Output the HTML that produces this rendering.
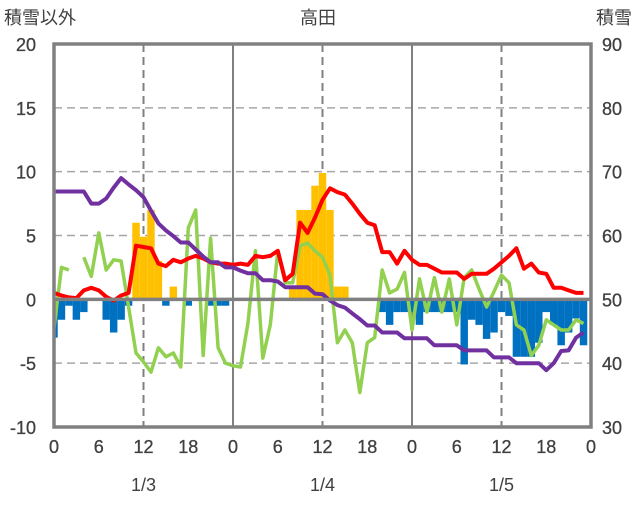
<!DOCTYPE html>
<html><head><meta charset="utf-8"><style>
html,body{margin:0;padding:0;background:#fff;}
svg text{font-family:"Liberation Sans","Noto Sans CJK JP",sans-serif;fill:#404040;}
</style></head><body>
<svg id="chart" width="636" height="501" xmlns="http://www.w3.org/2000/svg">
<g id="grid"></g>
<g id="bars"></g>
<g id="lines"></g>
<g id="axes"></g>
<text x="4" y="24" font-size="18">積雪以外</text>
<text x="318" y="24" font-size="18" text-anchor="middle">高田</text>
<text x="632" y="24" font-size="18" text-anchor="end">積雪</text>
</svg>
<script>
const leftTicks=[20,15,10,5,0,-5,-10];
const rightTicks=[90,80,70,60,50,40,30];
const hourTicks=[0,6,12,18,0,6,12,18,0,6,12,18,0];
const dateLabels=["1/3","1/4","1/5"];
const barValues=[-3,-1.6,-0.5,-1.6,-1,0,0,-1.6,-2.6,-1.6,-0.5,6,4.9,7,3,-0.5,1,0,-0.5,0,0,-0.5,-0.5,-0.5,
0,0,0,0,0,0,0,0,1,7,7,8.9,9.9,7,1,1,0,0,0,0,-1,-2,-1,-1,
-1,-2,-1,-1,-1,-1,-1,-5.1,-1.6,-2,-3.1,-2.6,-1,-1.3,-4.5,-4.5,-4.5,-3.4,-1,-2,-3.6,-2.6,-1.5,-3.6];
const tempValues=[0.5,0.3,0.15,0.1,0.7,0.9,0.7,0.2,-0.1,0.3,0.5,4.2,4.1,4.0,2.8,2.6,3.1,2.9,3.2,3.4,3.2,2.9,2.8,2.8,
2.7,2.8,2.7,3.4,3.3,3.4,3.8,1.5,2.0,6.0,5.2,6.4,7.8,8.7,8.4,8.2,7.5,6.7,6.0,5.8,3.7,3.7,2.8,3.8,
3.1,2.7,2.7,2.4,2.1,2.1,2.1,1.6,2.0,2.0,2.0,2.4,2.9,3.4,4.0,2.4,2.8,2.1,2.0,0.9,0.9,0.7,0.5,0.5];
const greenValues=[-2.2,2.5,2.3,null,3.3,1.8,5.2,2.3,3.1,3.0,-0.6,-4.2,-4.9,-5.7,-3.8,-4.5,-4.2,-5.3,5.6,7.0,-4.4,4.8,-3.8,-5.0,
-5.2,-5.3,-1.9,3.8,-4.6,-2.0,3.8,1.3,1.3,4.2,4.4,3.8,3.3,1.9,-3.4,-2.4,-3.4,-7.3,-3.4,-3.0,2.3,0.5,0.8,2.1,
-2.4,1.6,-1.0,1.7,-1.0,1.6,-2.0,1.7,2.3,0.8,-0.6,0.6,1.9,1.3,-2.0,-2.4,-4.4,-3.6,-1.6,-2.0,-2.4,-2.4,-1.6,-1.9];
const depthValues=[66.9,66.9,66.9,66.9,66.9,65.0,65.0,65.8,67.5,69.0,68.0,67.1,66.0,63.9,61.9,60.8,59.9,58.9,58.9,57.8,56.7,55.8,55.8,55.0,
55.0,54.5,54.1,54.1,53.0,53.0,52.8,51.9,51.9,51.9,51.9,50.9,50.8,49.8,49.1,48.7,47.8,46.9,45.9,45.9,44.8,44.8,44.8,43.9,
43.9,43.9,43.9,42.8,42.8,42.8,42.8,42.0,42.0,42.0,42.0,40.9,40.9,40.9,40.0,40.0,40.0,40.0,38.9,40.0,41.9,42.0,44.0,44.8];

const L=54,R=591,T=44,B=427,NS="http://www.w3.org/2000/svg";
const xH=h=>L+(R-L)*h/72;
const yL=v=>T+(20-v)*(B-T)/30;
const yR=v=>T+(90-v)*(B-T)/60;
function mk(tag,attrs,parent){const e=document.createElementNS(NS,tag);for(const k in attrs)e.setAttribute(k,attrs[k]);parent.appendChild(e);return e;}
const grid=document.getElementById('grid'),bars=document.getElementById('bars'),lines=document.getElementById('lines'),axes=document.getElementById('axes');
leftTicks.forEach(v=>{if(v===20||v===-10||v===0)return;
 const g=mk('line',{x1:L,x2:R,y1:yL(v),y2:yL(v),stroke:'#a6a6a6','stroke-width':1.5,'stroke-dasharray':'8,5'},grid);
 
 });
for(let d=0;d<3;d++){
 const xm=xH(d*24+12);
 const g=mk('line',{x1:xm,x2:xm,y1:T,y2:B,stroke:'#808080','stroke-width':2,'stroke-dasharray':'8,5'},grid);
 
 
 if(d>0){const s=mk('line',{x1:xH(d*24),x2:xH(d*24),y1:T,y2:B,stroke:'#808080','stroke-width':2},grid);
 
 }
}
const bw=(R-L)/72;
barValues.forEach((v,i)=>{if(!v)return;
 const x0=Math.max(L,xH(i)-bw/2),x1=xH(i)+bw/2;
 const y0=yL(Math.max(v,0)),y1=yL(Math.min(v,0));
 const r=mk('rect',{x:x0,y:y0,width:x1-x0,height:y1-y0,fill:v>0?'#FFC000':'#0070C0'},bars);
 
 });
const z=mk('line',{x1:L,x2:R,y1:yL(0),y2:yL(0),stroke:'#808080','stroke-width':3.5},axes);


function path(vals,yf,color,w,name){let d='',pen=false;
 vals.forEach((v,i)=>{if(v===null){pen=false;return;}d+=(pen?'L':'M')+xH(i).toFixed(1)+','+yf(v).toFixed(1);pen=true;});
 const p=mk('path',{d:d,fill:'none',stroke:color,'stroke-width':w,'stroke-linejoin':'round'},lines);
 
 }
path(greenValues,yL,'#92D050',3.5,'series-green');
path(tempValues,yL,'#FF0000',4,'series-red');
path(depthValues,yR,'#7030A0',4,'series-snow-depth');
const f=mk('rect',{x:L,y:T,width:R-L,height:B-T,fill:'none',stroke:'#808080','stroke-width':3.5},axes);


leftTicks.forEach(v=>{const t=mk('text',{x:36,y:yL(v)+7,'font-size':18,'text-anchor':'end','stroke':'#404040','stroke-width':0.3},axes);t.textContent=v;
 
 });
rightTicks.forEach(v=>{const t=mk('text',{x:612,y:yR(v)+7,'font-size':18,'text-anchor':'middle','stroke':'#404040','stroke-width':0.3},axes);t.textContent=v;
 
 });
hourTicks.forEach((lab,i)=>{const t=mk('text',{x:xH(i*6),y:453,'font-size':18,'text-anchor':'middle','stroke':'#404040','stroke-width':0.3},axes);t.textContent=lab;
 
 });
dateLabels.forEach((s,i)=>{const t=mk('text',{x:xH(i*24+12),y:491,'font-size':18,'text-anchor':'middle'},axes);t.textContent=s;
 
 });
</script>
</body></html>
